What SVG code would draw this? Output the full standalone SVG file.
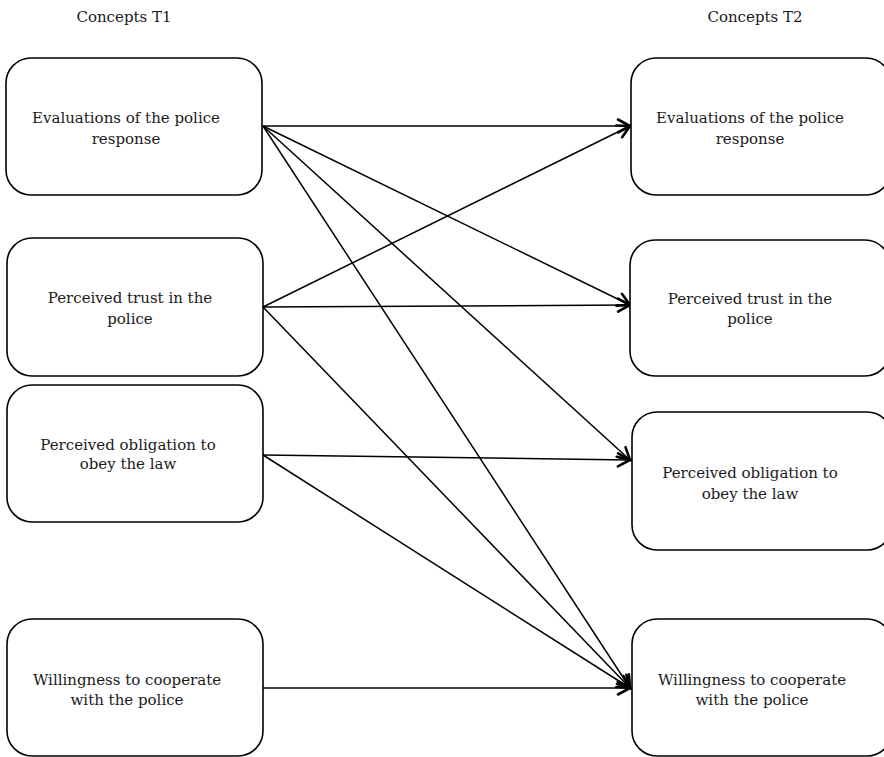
<svg xmlns="http://www.w3.org/2000/svg" width="884" height="757" viewBox="0 0 884 757">
<style>
.box{fill:#fff;stroke:#000;stroke-width:1.6}
.t{font-family:"DejaVu Serif","Liberation Serif",serif;font-size:15px;fill:#1a1a1a;text-anchor:middle}
.c{fill:none;stroke:#000;stroke-width:1.5}
</style>
<defs>
<marker id="ah" markerUnits="userSpaceOnUse" markerWidth="20" markerHeight="20" viewBox="-14 -10 16 20" refX="0" refY="0" orient="auto">
<path d="M-12,-6.5 L0,0 L-12,6.5" fill="none" stroke="#000" stroke-width="2.6" stroke-linecap="round" stroke-linejoin="miter"/>
</marker>
</defs>
<rect width="884" height="757" fill="#fff"/>
<text class="t" x="124" y="22">Concepts T1</text>
<text class="t" x="755" y="22">Concepts T2</text>

<g id="connectors">
<line class="c" x1="263" y1="126" x2="630" y2="126" marker-end="url(#ah)"/>
<line class="c" x1="263" y1="126" x2="630" y2="305" marker-end="url(#ah)"/>
<line class="c" x1="263" y1="126" x2="630" y2="460" marker-end="url(#ah)"/>
<line class="c" x1="263" y1="126" x2="630" y2="688" marker-end="url(#ah)"/>
<line class="c" x1="263" y1="307" x2="630" y2="126" marker-end="url(#ah)"/>
<line class="c" x1="263" y1="307" x2="630" y2="305" marker-end="url(#ah)"/>
<line class="c" x1="263" y1="307" x2="630" y2="688" marker-end="url(#ah)"/>
<line class="c" x1="263" y1="455" x2="630" y2="460" marker-end="url(#ah)"/>
<line class="c" x1="263" y1="455" x2="630" y2="688" marker-end="url(#ah)"/>
<line class="c" x1="263" y1="688" x2="630" y2="688" marker-end="url(#ah)"/>
</g>

<g id="l1"><rect class="box" x="6" y="58" width="256" height="137" rx="25"/>
<text class="t" x="126" y="123">Evaluations of the police</text><text class="t" x="126" y="144">response</text></g>
<g id="l2"><rect class="box" x="7" y="238" width="256" height="138" rx="25"/>
<text class="t" x="130" y="303">Perceived trust in the</text><text class="t" x="130" y="324">police</text></g>
<g id="l3"><rect class="box" x="7" y="385" width="256" height="137" rx="25"/>
<text class="t" x="128" y="450">Perceived obligation to</text><text class="t" x="128" y="469">obey the law</text></g>
<g id="l4"><rect class="box" x="7" y="619" width="256" height="137" rx="25"/>
<text class="t" x="127" y="685">Willingness to cooperate</text><text class="t" x="127" y="705">with the police</text></g>

<g id="r1"><rect class="box" x="631" y="58" width="260" height="137" rx="25"/>
<text class="t" x="750" y="123">Evaluations of the police</text><text class="t" x="750" y="144">response</text></g>
<g id="r2"><rect class="box" x="630" y="240" width="260" height="136" rx="25"/>
<text class="t" x="750" y="304">Perceived trust in the</text><text class="t" x="750" y="324">police</text></g>
<g id="r3"><rect class="box" x="632" y="412" width="260" height="138" rx="25"/>
<text class="t" x="750" y="478">Perceived obligation to</text><text class="t" x="750" y="499">obey the law</text></g>
<g id="r4"><rect class="box" x="632" y="619" width="260" height="137" rx="25"/>
<text class="t" x="752" y="685">Willingness to cooperate</text><text class="t" x="752" y="705">with the police</text></g>
</svg>
